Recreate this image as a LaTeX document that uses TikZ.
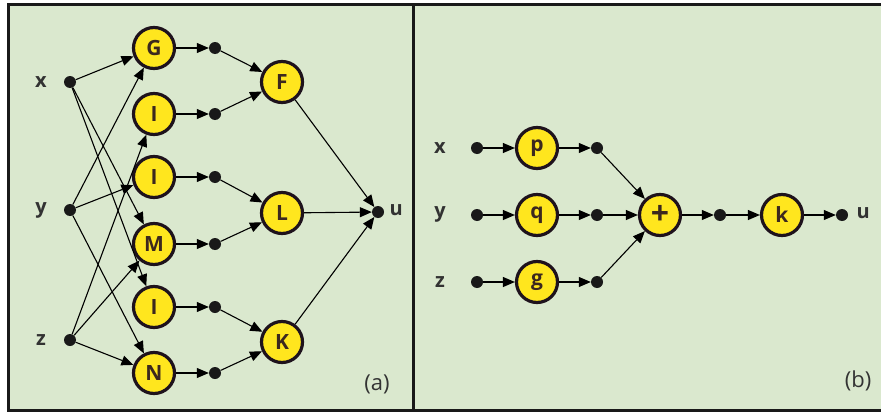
\documentclass[tikz,border=0pt]{standalone}
\usepackage{fontspec}
\setmainfont{Open Sans}
\usetikzlibrary{arrows.meta}
\definecolor{panelbg}{RGB}{218,232,206}
\definecolor{fnyellow}{RGB}{255,230,30}
\definecolor{fnrim}{RGB}{30,18,28}
\definecolor{fntext}{RGB}{60,40,30}
\definecolor{labeltext}{RGB}{50,50,50}
\tikzset{
  fn/.style={circle, fill=fnyellow, draw=fnrim, line width=3.2pt,
    minimum size=41pt, inner sep=0pt, text=fntext,
    font=\fontsize{21}{21}\selectfont\bfseries},
  pt/.style={circle, fill=black!90, minimum size=12pt, inner sep=0pt},
  var/.style={text=labeltext, font=\fontsize{20}{20}\selectfont\bfseries},
  tag/.style={text=black!80, font=\fontsize{22}{22}\selectfont},
  link/.style={line width=1.1pt, -{Triangle[length=12pt,width=10pt]}},
  frame/.style={line width=3pt, draw=black!90}
}
\begin{document}
\begin{tikzpicture}[x=1pt,y=-1pt]
  \useasboundingbox (0,0) rectangle (881,415);
  % panel backgrounds and frame
  \fill[panelbg] (8,4) rectangle (885,410);
  \draw[frame] (885,4) -- (8,4) -- (8,410) -- (885,410);
  \draw[frame] (413,4) -- (413,410);

  % ---------- panel (a) ----------
  \node[var] (lx) at (41,82) {x};
  \node[var] (ly) at (41,210) {y};
  \node[var] (lz) at (41,340) {z};
  \node[pt] (x) at (70,82) {};
  \node[pt] (y) at (70,210) {};
  \node[pt] (z) at (70,340) {};

  \node[fn] (G)  at (154,48)  {G};
  \node[fn] (I1) at (154,114) {I};
  \node[fn] (I2) at (154,177) {I};
  \node[fn] (M)  at (154,244) {M};
  \node[fn] (I3) at (154,307) {I};
  \node[fn] (N)  at (154,373) {N};

  \node[pt] (dG)  at (215,48)  {};
  \node[pt] (dI1) at (215,114) {};
  \node[pt] (dI2) at (215,177) {};
  \node[pt] (dM)  at (215,244) {};
  \node[pt] (dI3) at (215,307) {};
  \node[pt] (dN)  at (215,373) {};

  \node[fn] (F) at (282,82)  {F};
  \node[fn] (L) at (282,213) {L};
  \node[fn] (K) at (282,342) {K};

  \node[pt] (u) at (378,212) {};
  \node[var, anchor=west] (lu) at (386,210) {u};
  \node[tag] (ta) at (377,384) {(a)};

  \foreach \s/\t in {x/G, x/M, x/I3, y/G, y/I2, y/N, z/I1, z/M, z/N}
    \draw[link] (\s) -- (\t);
  \foreach \s in {G, I1, I2, M, I3, N}
    \draw[link] (\s) -- (d\s);
  \draw[link] (dG) -- (F);
  \draw[link] (dI1) -- (F);
  \draw[link] (dI2) -- (L);
  \draw[link] (dM) -- (L);
  \draw[link] (dI3) -- (K);
  \draw[link] (dN) -- (K);
  \draw[link] (F) -- (u);
  \draw[link] (L) -- (u);
  \draw[link] (K) -- (u);

  % ---------- panel (b) ----------
  \node[var] (bx) at (440,148) {x};
  \node[var] (by) at (440,214) {y};
  \node[var] (bz) at (440,282) {z};
  \node[pt] (px) at (477,148) {};
  \node[pt] (py) at (477,215) {};
  \node[pt] (pz) at (477,282) {};

  \node[fn] (p) at (537,148) {p};
  \node[fn] (q) at (537,215) {q};
  \node[fn] (g) at (537,282) {g};

  \node[pt] (op) at (597,148) {};
  \node[pt] (oq) at (597,215) {};
  \node[pt] (og) at (597,282) {};

  \node[fn] (plus) at (660,215) {\fontsize{32}{32}\selectfont +};
  \node[pt] (s) at (720,215) {};
  \node[fn] (k) at (782,215) {k};
  \node[pt] (bu) at (842,215) {};
  \node[var, anchor=west] (lbu) at (853,213) {u};
  \node[tag] (tb) at (858,381) {(b)};

  \draw[link] (px) -- (p);
  \draw[link] (py) -- (q);
  \draw[link] (pz) -- (g);
  \draw[link] (p) -- (op);
  \draw[link] (q) -- (oq);
  \draw[link] (g) -- (og);
  \draw[link] (op) -- (plus);
  \draw[link] (oq) -- (plus);
  \draw[link] (og) -- (plus);
  \draw[link] (plus) -- (s);
  \draw[link] (s) -- (k);
  \draw[link] (k) -- (bu);
\end{tikzpicture}
\end{document}
